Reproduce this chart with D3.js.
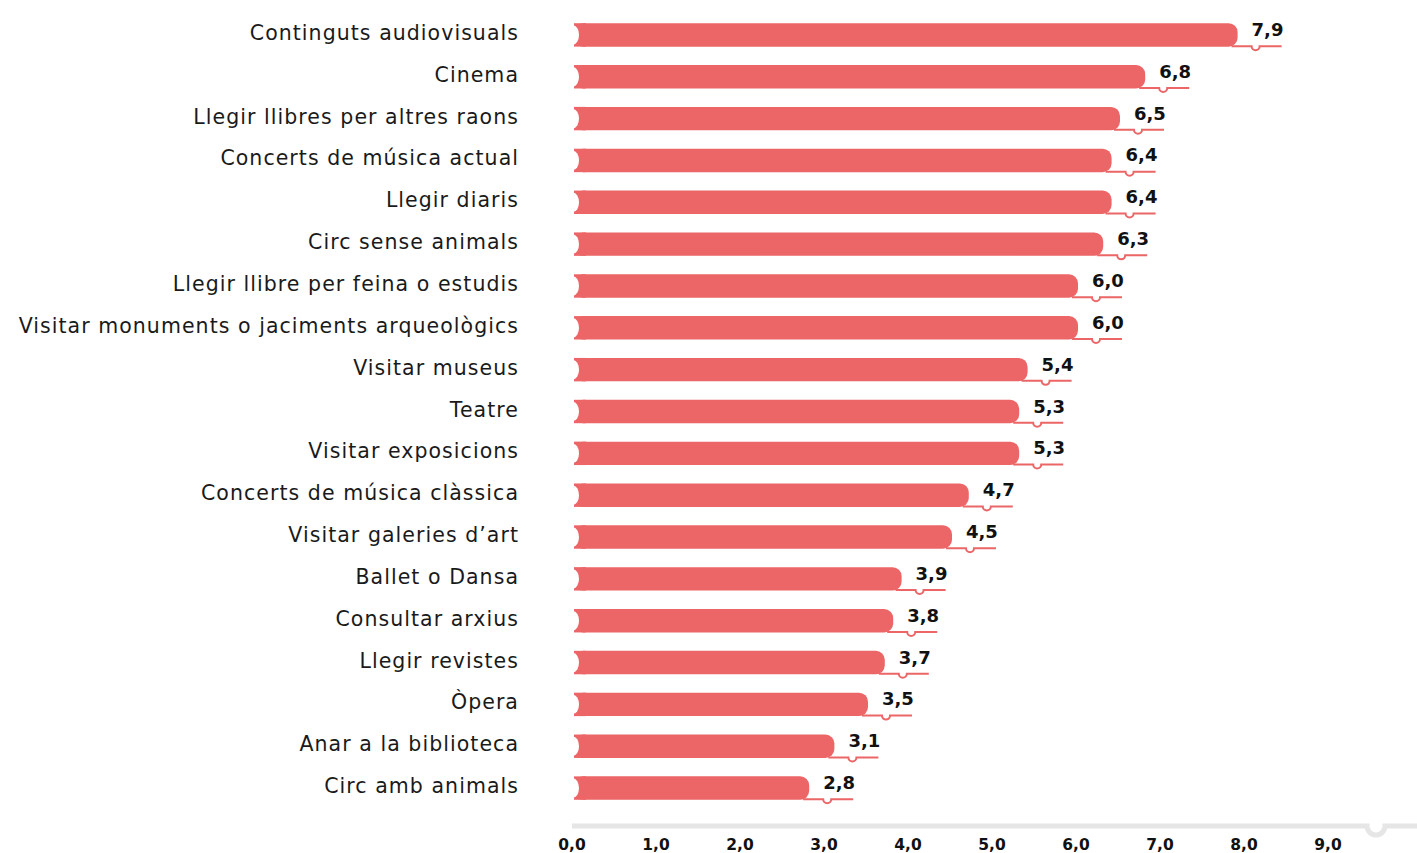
<!DOCTYPE html>
<html><head><meta charset="utf-8">
<script src="https://cdn.jsdelivr.net/npm/d3@7"></script>
<style>body{margin:0;background:#fff;}svg{display:block;}</style>
</head><body>
<svg id="chart" width="1417" height="853"></svg>
<script>
const categories = ["Continguts audiovisuals","Cinema","Llegir llibres per altres raons","Concerts de música actual","Llegir diaris","Circ sense animals","Llegir llibre per feina o estudis","Visitar monuments o jaciments arqueològics","Visitar museus","Teatre","Visitar exposicions","Concerts de música clàssica","Visitar galeries d’art","Ballet o Dansa","Consultar arxius","Llegir revistes","Òpera","Anar a la biblioteca","Circ amb animals"];
const values = [7.9,6.8,6.5,6.4,6.4,6.3,6.0,6.0,5.4,5.3,5.3,4.7,4.5,3.9,3.8,3.7,3.5,3.1,2.8];
const tickValues = [0,1,2,3,4,5,6,7,8,9];
const fmt = v => d3.format(".1f")(v).replace(".", ",");

const svg = d3.select("#chart");
const font = "'DejaVu Sans', sans-serif";
const red = "#ec6667";
const x = d3.scaleLinear().domain([0, 10]).range([574, 1414]);
const y = d3.scaleBand().domain(categories).range([14, 809]).paddingInner(0.44).paddingOuter(0.22);
const bh = y.bandwidth();

const g = svg.append("g");
const rows = g.selectAll("g.row").data(categories.map((c,i)=>({c, v: values[i]}))).join("g");
rows.append("rect")
  .attr("x", x(0))
  .attr("y", d => y(d.c))
  .attr("width", d => x(d.v) - x(0))
  .attr("height", bh)
  .attr("rx", 9).attr("ry", 9)
  .attr("fill", red);
rows.append("rect")
  .attr("x", x(0)).attr("y", d => y(d.c))
  .attr("width", 12).attr("height", bh).attr("fill", red);
rows.append("ellipse")
  .attr("cx", x(0) - 1).attr("cy", d => y(d.c) + bh/2)
  .attr("rx", 6).attr("ry", bh/2 - 2).attr("fill", "#fff");
rows.append("path")
  .attr("d", d => {
    const x0 = x(d.v) - 6, yb = y(d.c) + bh - 0.5;
    const nx = x(d.v) + 18;
    return `M${x0},${yb} L${nx-4},${yb} A4,4 0 0 0 ${nx+4},${yb} L${x(d.v)+44},${yb}`;
  })
  .attr("fill", "none").attr("stroke", red).attr("stroke-width", 2);
rows.append("circle")
  .attr("cx", d => x(d.v) + 18).attr("cy", d => y(d.c) + bh - 2)
  .attr("r", 2.2).attr("fill", "#fff");
rows.append("text")
  .attr("x", d => x(d.v) + 14)
  .attr("y", d => y(d.c) + bh/2 + 1)
  .attr("font-family", font).attr("font-weight", "bold").attr("font-size", 18)
  .attr("fill", "#111")
  .text(d => fmt(d.v));

g.selectAll("text.cat").data(categories).join("text")
  .attr("class", "cat")
  .attr("x", 519)
  .attr("y", d => y(d) + bh/2 + 5)
  .attr("text-anchor", "end")
  .attr("font-family", font).attr("font-size", 20.5)
  .attr("letter-spacing", 1.05)
  .attr("fill", "#1a1a1a")
  .text(d => d);

const ay = 826;
const nx = x(9.5) + 4;
svg.append("path")
  .attr("d", `M${x(0)-2},${ay} L${nx-9},${ay} A9,9 0 0 0 ${nx+9},${ay} L1417,${ay}`)
  .attr("fill", "none").attr("stroke", "#e6e6e6").attr("stroke-width", 5);

svg.append("g").selectAll("text").data(tickValues).join("text")
  .attr("x", d => x(d) - 2)
  .attr("y", 850)
  .attr("text-anchor", "middle")
  .attr("font-family", font).attr("font-weight", "bold").attr("font-size", 15.5)
  .attr("fill", "#111")
  .text(d => fmt(d));
</script>
</body></html>
